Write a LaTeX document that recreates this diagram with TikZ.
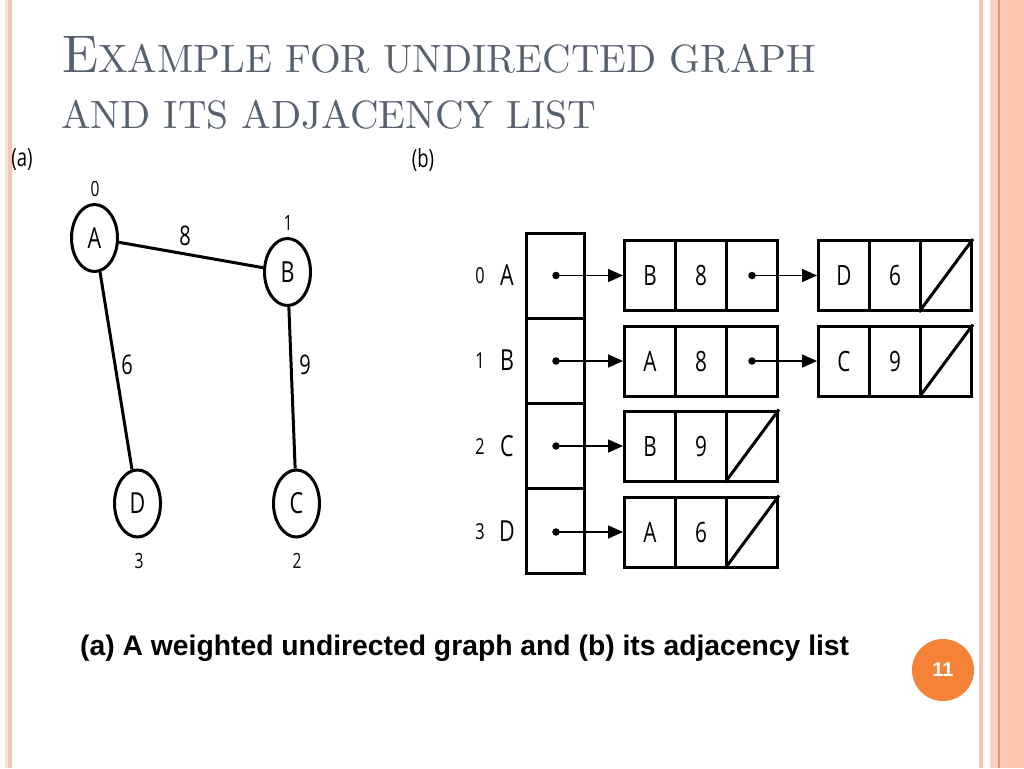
\documentclass[tikz,border=0pt]{standalone}
\usepackage{fontspec}
\usetikzlibrary{shapes.geometric,arrows.meta}
\newfontfamily\labfont[FakeStretch=0.74]{Open Sans}
\newfontfamily\capfont{Liberation Sans}
\newfontfamily\titlefont{lmroman10-regular.otf}
\definecolor{titlegray}{RGB}{88,97,110}
\definecolor{pinkpale}{RGB}{248,228,216}
\definecolor{pinkA}{RGB}{250,196,181}
\definecolor{pinkB}{RGB}{251,208,192}
\definecolor{pinkdark}{RGB}{224,150,120}
\definecolor{pinkC}{RGB}{252,201,182}
\definecolor{pinkD}{RGB}{252,196,172}
\definecolor{pgorange}{RGB}{245,130,54}
\tikzset{
  vert/.style={ellipse, draw, line width=3pt, minimum width=46pt, minimum height=67pt, inner sep=0pt,
    font=\labfont\fontsize{29}{29}\selectfont},
  edge/.style={line width=3pt},
  small/.style={inner sep=0pt, font=\labfont\fontsize{21}{21}\selectfont},
  wlab/.style={inner sep=0pt, font=\labfont\fontsize{27}{27}\selectfont},
  idx/.style={draw, line width=3pt, minimum width=58pt, minimum height=85pt, inner sep=0pt},
  cell/.style={draw, line width=3pt, minimum width=51pt, minimum height=70pt, inner sep=0pt,
    font=\labfont\fontsize{28}{28}\selectfont},
  rowdig/.style={inner sep=0pt, font=\labfont\fontsize{22}{22}\selectfont},
  rowlet/.style={inner sep=0pt, font=\labfont\fontsize{29}{29}\selectfont},
  ptr/.style={line width=1.6pt, -{Triangle[length=15pt,width=13pt]}},
  nil/.style={line width=3pt},
  dotmark/.style={circle, fill, inner sep=0pt, minimum size=7.5pt}
}
\begin{document}
\begin{tikzpicture}[x=1pt,y=-1pt]
\fill[white] (0,0) rectangle (1024,768);
\useasboundingbox (0,0) rectangle (1024,768);
% borders
\fill[pinkpale] (5,0) rectangle (8,768);
\fill[pinkA] (8,0) rectangle (12,768);
\fill[pinkA] (979,0) rectangle (983,768);
\fill[pinkB] (990,0) rectangle (998,768);
\fill[pinkdark] (998,0) rectangle (999.5,768);
\fill[pinkC] (999.5,0) rectangle (1008,768);
\fill[pinkD] (1008,0) rectangle (1024,768);
% title
\node[anchor=base west, inner sep=0pt, text=titlegray] (t1) at (62,72)
  {\titlefont\fontsize{53}{53}\selectfont E\fontsize{39.5}{39.5}\selectfont XAMPLE FOR UNDIRECTED GRAPH};
\node[anchor=base west, inner sep=0pt, text=titlegray] (t2) at (61,128)
  {\titlefont\fontsize{39.5}{39.5}\selectfont AND ITS ADJACENCY LIST};
% part labels
\node[inner sep=0pt, font=\labfont\fontsize{25}{25}\selectfont] (pa) at (22,160) {(a)};
\node[inner sep=0pt, font=\labfont\fontsize{25}{25}\selectfont] (pb) at (423,160) {(b)};
% graph
\node[vert] (A) at (94.5,238) {A};
\node[vert] (B) at (287.5,272) {B};
\node[vert] (D) at (137.5,503.5) {D};
\node[vert] (C) at (296.5,503.5) {C};
\draw[edge] (A) -- (B);
\draw[edge] (A) -- (D);
\draw[edge] (B) -- (C);
\node[small] (n0) at (95,189) {0};
\node[small] (n1) at (288,223) {1};
\node[small] (n3) at (139,561) {3};
\node[small] (n2) at (297,561) {2};
\node[wlab] (w8) at (185,236) {8};
\node[wlab] (w6) at (127,365) {6};
\node[wlab] (w9) at (305,365) {9};
% index column
\node[idx] (i0) at (555.5,276) {};
\node[idx] (i1) at (555.5,361) {};
\node[idx] (i2) at (555.5,446) {};
\node[idx] (i3) at (555.5,531) {};
\node[rowdig] (r0) at (480,276) {0};
\node[rowlet] (s0) at (507,275) {A};
\node[rowdig] (r1) at (480,361) {1};
\node[rowlet] (s1) at (507,360) {B};
\node[rowdig] (r2) at (480,447) {2};
\node[rowlet] (s2) at (507,446) {C};
\node[rowdig] (r3) at (480,532) {3};
\node[rowlet] (s3) at (507,531) {D};
% row 0
\node[cell] (a1) at (650,275.5) {B};
\node[cell] (a2) at (701,275.5) {8};
\node[cell] (a3) at (752,275.5) {};
\node[cell] (a4) at (844,275.5) {D};
\node[cell] (a5) at (895,275.5) {6};
\node[cell] (a6) at (946,275.5) {};
% row 1
\node[cell] (b1) at (650,361) {A};
\node[cell] (b2) at (701,361) {8};
\node[cell] (b3) at (752,361) {};
\node[cell] (b4) at (844,361) {C};
\node[cell] (b5) at (895,361) {9};
\node[cell] (b6) at (946,361) {};
% row 2
\node[cell] (c1) at (650,446) {B};
\node[cell] (c2) at (701,446) {9};
\node[cell] (c3) at (752,446) {};
% row 3
\node[cell] (e1) at (650,532) {A};
\node[cell] (e2) at (701,532) {6};
\node[cell] (e3) at (752,532) {};
% nil slashes
\draw[nil] (a6.south west) -- (a6.north east);
\draw[nil] (b6.south west) -- (b6.north east);
\draw[nil] (c3.south west) -- (c3.north east);
\draw[nil] (e3.south west) -- (e3.north east);
% pointers
\node[dotmark] (p0) at (556,275.5) {};
\node[dotmark] (p1) at (556,361) {};
\node[dotmark] (p2) at (556,446) {};
\node[dotmark] (p3) at (556,532) {};
\node[dotmark] (q0) at (752,275.5) {};
\node[dotmark] (q1) at (752,361) {};
\draw[ptr] (p0.center) -- (a1.west);
\draw[ptr] (p1.center) -- (b1.west);
\draw[ptr] (p2.center) -- (c1.west);
\draw[ptr] (p3.center) -- (e1.west);
\draw[ptr] (q0.center) -- (a4.west);
\draw[ptr] (q1.center) -- (b4.west);
% caption
\node[anchor=base west, inner sep=0pt] (cap) at (80,655)
  {\capfont\bfseries\fontsize{28.3}{28.3}\selectfont (a) A weighted undirected graph and (b) its adjacency list};
% page number
\node[circle, fill=pgorange, minimum size=62pt, inner sep=0pt, text=white,
  font=\capfont\bfseries\fontsize{20}{20}\selectfont] (pg) at (943,670) {11};
\end{tikzpicture}
\end{document}
